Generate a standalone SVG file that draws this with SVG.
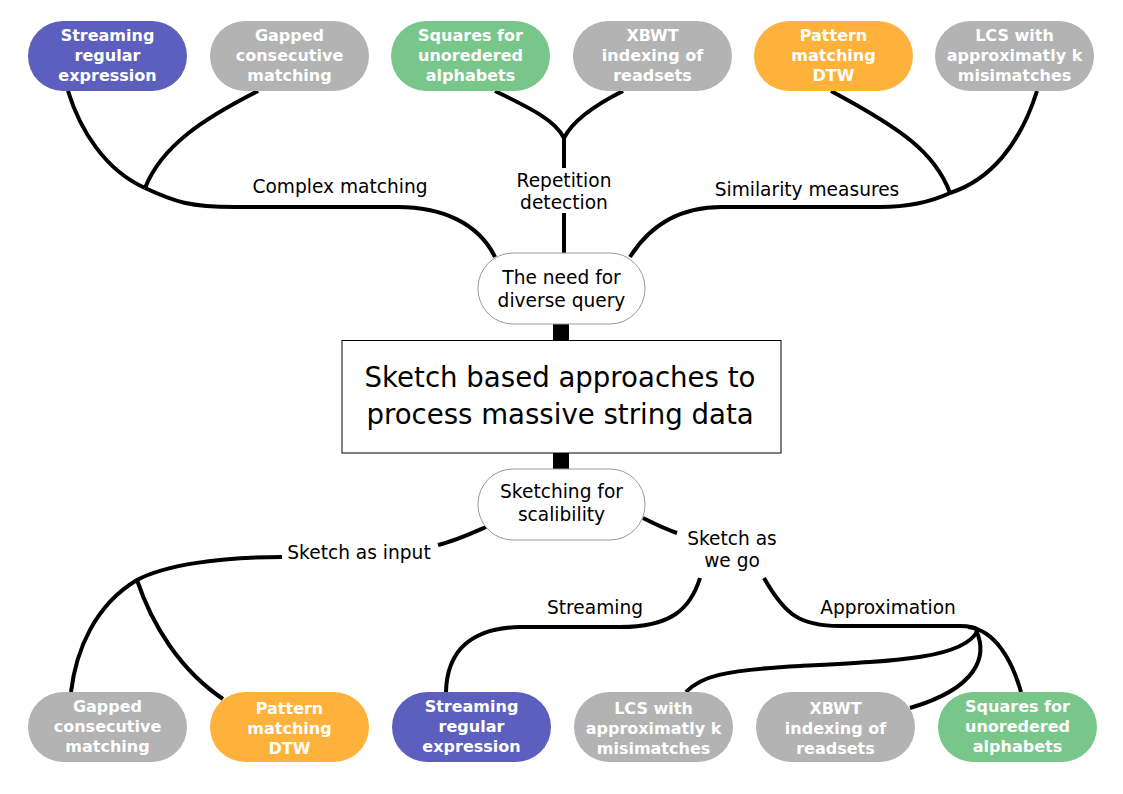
<svg xmlns="http://www.w3.org/2000/svg" width="1123" height="794" viewBox="0 0 1123 794">
<style>
.n rect{stroke:none}
.n text{font-family:"DejaVu Sans",sans-serif;font-weight:bold;font-size:16px;fill:#fff;text-anchor:middle}
.c{fill:none;stroke:#000;stroke-width:4;stroke-linecap:butt}
.lb{font-family:"DejaVu Sans",sans-serif;font-size:18.6px;fill:#000;text-anchor:middle}
.pu{fill:#5d5fbf}.gr{fill:#b3b3b3}.gn{fill:#79c68a}.or{fill:#ffb23b}
.hub rect{fill:#fff;stroke:#999;stroke-width:1}
</style>
<rect width="1123" height="794" fill="#fff"/>
<g id="connectors">
<path class="c" d="M68,91 C80,130 105,170 145,188"/>
<path class="c" d="M258,91 C205,118 162,145 145,188"/>
<path class="c" d="M145,188 C175,202 190,207 235,207 L398,207 C440,207 478,222 495,257"/>
<path class="c" d="M495,91 C530,108 555,120 564,138"/>
<path class="c" d="M623,91 C595,105 572,122 564,138"/>
<path class="c" d="M564,138 V168 M564,213 V255"/>
<path class="c" d="M630,257 C650,225 680,207 722,207 L880,207 C915,207 935,200 950,193"/>
<path class="c" d="M831,91 C900,128 935,152 950,193"/>
<path class="c" d="M1037,91 C1020,145 990,180 950,193"/>
<path d="M561,324 V341 M561,453 V470" stroke="#000" stroke-width="16" fill="none"/>
<path class="c" d="M486,527 C470,534 455,541 438,545"/>
<path class="c" d="M282,557 C220,557 165,565 137,580 C95,605 76,650 71,692"/>
<path class="c" d="M137,580 C152,625 180,670 223,699"/>
<path class="c" d="M643,518 C655,524 665,529 677,533"/>
<path class="c" d="M700,578 C690,610 670,627 620,627 L520,627 C472,628 447,650 446,692"/>
<path class="c" d="M764,578 C785,615 800,626 840,626 L960,626 C970,626 975,627 978,630"/>
<path class="c" d="M978,630 C965,658 900,661 800,666 C722,670 700,677 686,692"/>
<path class="c" d="M976,630 C988,656 978,688 910,708"/>
<path class="c" d="M968,627 C995,630 1012,660 1021,692"/>
</g>
<g id="labels">
<text class="lb" x="340" y="193">Complex matching</text>
<text class="lb" x="564" y="187">Repetition</text>
<text class="lb" x="564" y="209">detection</text>
<text class="lb" x="807" y="196">Similarity measures</text>
<text class="lb" x="359" y="559">Sketch as input</text>
<text class="lb" x="732" y="545">Sketch as</text>
<text class="lb" x="732" y="567">we go</text>
<text class="lb" x="595" y="614">Streaming</text>
<text class="lb" x="888" y="614">Approximation</text>
</g>
<g id="t1" class="n"><rect class="pu" x="28" y="21" width="159" height="70" rx="35"/><text x="107.5" y="41">Streaming</text><text x="107.5" y="61">regular</text><text x="107.5" y="81">expression</text></g>
<g id="t2" class="n"><rect class="gr" x="210" y="21" width="159" height="70" rx="35"/><text x="289.5" y="41">Gapped</text><text x="289.5" y="61">consecutive</text><text x="289.5" y="81">matching</text></g>
<g id="t3" class="n"><rect class="gn" x="391" y="21" width="159" height="70" rx="35"/><text x="470.5" y="41">Squares for</text><text x="470.5" y="61">unoredered</text><text x="470.5" y="81">alphabets</text></g>
<g id="t4" class="n"><rect class="gr" x="573" y="21" width="159" height="70" rx="35"/><text x="652.5" y="41">XBWT</text><text x="652.5" y="61">indexing of</text><text x="652.5" y="81">readsets</text></g>
<g id="t5" class="n"><rect class="or" x="754" y="21" width="159" height="70" rx="35"/><text x="833.5" y="41">Pattern</text><text x="833.5" y="61">matching</text><text x="833.5" y="81">DTW</text></g>
<g id="t6" class="n"><rect class="gr" x="935" y="21" width="159" height="70" rx="35"/><text x="1014.5" y="41">LCS with</text><text x="1014.5" y="61">approximatly k</text><text x="1014.5" y="81">misimatches</text></g>
<g id="need" class="hub"><rect x="478" y="253" width="167" height="71" rx="35"/><text class="lb" x="561.5" y="284">The need for</text><text class="lb" x="561.5" y="307">diverse query</text></g>
<g id="main"><rect x="342" y="340.5" width="439" height="112.5" fill="#fff" stroke="#000" stroke-width="1"/><text class="lb" style="font-size:27.6px" x="560" y="387">Sketch based approaches to</text><text class="lb" style="font-size:27.6px" x="560" y="424">process massive string data</text></g>
<g id="scal" class="hub"><rect x="478" y="469" width="167" height="71" rx="35"/><text class="lb" x="561.5" y="498">Sketching for</text><text class="lb" x="561.5" y="521">scalibility</text></g>
<g id="b1" class="n"><rect class="gr" x="28" y="692" width="159" height="70" rx="35"/><text x="107.5" y="712">Gapped</text><text x="107.5" y="732">consecutive</text><text x="107.5" y="752">matching</text></g>
<g id="b2" class="n"><rect class="or" x="210" y="692" width="159" height="70" rx="35"/><text x="289.5" y="714">Pattern</text><text x="289.5" y="734">matching</text><text x="289.5" y="754">DTW</text></g>
<g id="b3" class="n"><rect class="pu" x="392" y="692" width="159" height="70" rx="35"/><text x="471.5" y="712">Streaming</text><text x="471.5" y="732">regular</text><text x="471.5" y="752">expression</text></g>
<g id="b4" class="n"><rect class="gr" x="574" y="692" width="159" height="70" rx="35"/><text x="653.5" y="714">LCS with</text><text x="653.5" y="734">approximatly k</text><text x="653.5" y="754">misimatches</text></g>
<g id="b5" class="n"><rect class="gr" x="756" y="692" width="159" height="70" rx="35"/><text x="835.5" y="714">XBWT</text><text x="835.5" y="734">indexing of</text><text x="835.5" y="754">readsets</text></g>
<g id="b6" class="n"><rect class="gn" x="938" y="692" width="159" height="70" rx="35"/><text x="1017.5" y="712">Squares for</text><text x="1017.5" y="732">unoredered</text><text x="1017.5" y="752">alphabets</text></g>
</svg>
